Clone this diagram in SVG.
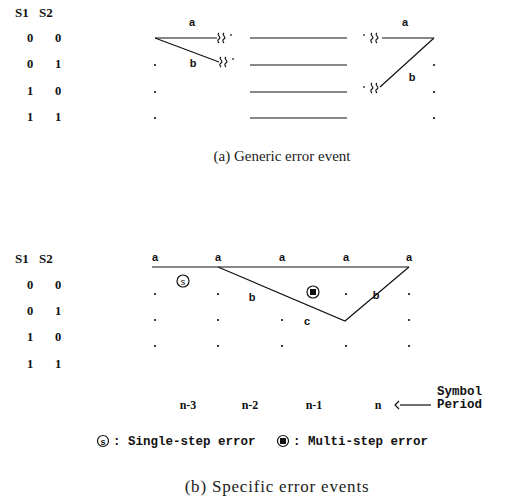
<svg xmlns="http://www.w3.org/2000/svg" width="521" height="500" viewBox="0 0 521 500">
<style>
.hd{font-family:"Liberation Serif",serif;font-weight:bold;font-size:13px;fill:#111}
.dg{font-family:"Liberation Serif",serif;font-weight:bold;font-size:12.5px;fill:#111;text-anchor:middle}
.lb{font-family:"Liberation Sans",sans-serif;font-weight:bold;font-size:11px;fill:#111;text-anchor:middle}
.nm{font-family:"Liberation Serif",serif;font-weight:bold;font-size:12px;fill:#111;text-anchor:middle}
.mo{font-family:"Liberation Mono",monospace;font-weight:bold;font-size:12.5px;fill:#111}
.cap{font-family:"Liberation Serif",serif;fill:#222;text-anchor:middle}
.ln{stroke:#111;stroke-width:1.2;fill:none}
.dot{fill:#111}
.sq{stroke:#111;stroke-width:1.2;fill:none}
</style>
<defs>
<path id="squig" d="M0,-5 c-3,2 3,4 0,6 c-2,1 -1,3 0,4 M5,-5 c-3,2 3,4 0,6 c-2,1 -1,3 0,4" class="sq"/>
<circle id="d" r="1.1" class="dot"/>
</defs>

<!-- Part (a) -->
<g id="table-a">
<text class="hd" x="15" y="17">S1</text>
<text class="hd" x="39" y="17">S2</text>
<text class="dg" x="30" y="42">0</text><text class="dg" x="58" y="42">0</text>
<text class="dg" x="30" y="68">0</text><text class="dg" x="58" y="68">1</text>
<text class="dg" x="30" y="95">1</text><text class="dg" x="58" y="95">0</text>
<text class="dg" x="30" y="121">1</text><text class="dg" x="58" y="121">1</text>
</g>
<g id="connectors-a">
<line class="ln" x1="155" y1="38" x2="217" y2="38"/>
<line class="ln" x1="155" y1="38" x2="219" y2="62"/>
<line class="ln" x1="250" y1="38" x2="347" y2="38"/>
<line class="ln" x1="250" y1="65" x2="347" y2="65"/>
<line class="ln" x1="250" y1="92" x2="347" y2="92"/>
<line class="ln" x1="250" y1="118" x2="347" y2="118"/>
<line class="ln" x1="382" y1="38" x2="434" y2="38"/>
<line class="ln" x1="434" y1="38" x2="380" y2="87"/>
</g>
<g id="breaks-a">
<use href="#squig" x="219" y="38"/>
<line class="ln" x1="231" y1="34" x2="231" y2="36"/>
<use href="#squig" x="221" y="62"/>
<line class="ln" x1="233" y1="58" x2="233" y2="60"/>
<use href="#squig" x="372" y="38"/>
<line class="ln" x1="364" y1="34" x2="364" y2="36"/>
<use href="#squig" x="372" y="88"/>
<line class="ln" x1="364" y1="86" x2="364" y2="88"/>
</g>
<g id="dots-a">
<use href="#d" x="155" y="65"/><use href="#d" x="155" y="92"/><use href="#d" x="155" y="118"/>
<use href="#d" x="434" y="65"/><use href="#d" x="434" y="92"/><use href="#d" x="434" y="118"/>
</g>
<g id="labels-a">
<text class="lb" x="192" y="26">a</text>
<text class="lb" x="193" y="67">b</text>
<text class="lb" x="405" y="26">a</text>
<text class="lb" x="412" y="81">b</text>
</g>
<text class="cap" x="282" y="161" style="font-size:15px">(a) Generic error event</text>

<!-- Part (b) -->
<g id="table-b">
<text class="hd" x="15" y="263">S1</text>
<text class="hd" x="39" y="263">S2</text>
<text class="dg" x="30" y="289">0</text><text class="dg" x="58" y="289">0</text>
<text class="dg" x="30" y="315">0</text><text class="dg" x="58" y="315">1</text>
<text class="dg" x="30" y="341">1</text><text class="dg" x="58" y="341">0</text>
<text class="dg" x="30" y="368">1</text><text class="dg" x="58" y="368">1</text>
</g>
<g id="labels-top-b">
<text class="lb" x="155" y="261">a</text>
<text class="lb" x="218" y="261">a</text>
<text class="lb" x="282" y="261">a</text>
<text class="lb" x="346" y="261">a</text>
<text class="lb" x="409" y="261">a</text>
</g>
<g id="connectors-b">
<line class="ln" x1="152" y1="267" x2="409" y2="267"/>
<polyline class="ln" points="218,267 345,321 409,267"/>
</g>
<g id="dots-b">
<use href="#d" x="155" y="294"/><use href="#d" x="218" y="294"/><use href="#d" x="346" y="294"/><use href="#d" x="409" y="294"/>
<use href="#d" x="155" y="320"/><use href="#d" x="218" y="320"/><use href="#d" x="282" y="320"/><use href="#d" x="409" y="320"/>
<use href="#d" x="155" y="346"/><use href="#d" x="218" y="346"/><use href="#d" x="282" y="346"/><use href="#d" x="346" y="346"/><use href="#d" x="409" y="346"/>
</g>
<g id="labels-b">
<text class="lb" x="252" y="301">b</text>
<text class="lb" x="376" y="299">b</text>
<text class="lb" x="307" y="325">c</text>
</g>
<g id="single-step">
<circle cx="183" cy="281" r="6" class="ln"/>
<text x="183" y="284.5" style="font-family:'Liberation Sans',sans-serif;font-size:9px;fill:#111;text-anchor:middle">s</text>
</g>
<g id="multi-step">
<circle cx="313" cy="292" r="6" class="ln"/>
<rect x="310" y="289" width="6" height="6" fill="#111"/>
</g>
<g id="periods">
<text class="nm" x="188" y="409">n-3</text>
<text class="nm" x="250" y="409">n-2</text>
<text class="nm" x="314" y="409">n-1</text>
<text class="nm" x="378" y="409">n</text>
</g>
<g id="symbol-period">
<line class="ln" x1="400" y1="405" x2="431" y2="405"/>
<polyline class="ln" points="399,401 395,405 399,409"/>
<text class="mo" x="437" y="395">Symbol</text>
<text class="mo" x="437" y="408">Period</text>
</g>
<g id="legend">
<circle cx="103" cy="441" r="5.5" class="ln"/>
<text x="103" y="444.5" style="font-family:'Liberation Sans',sans-serif;font-size:9px;font-weight:bold;fill:#111;text-anchor:middle">s</text>
<text class="mo" x="113" y="445">: Single-step error</text>
<circle cx="283" cy="441" r="5.5" class="ln"/>
<rect x="280" y="438" width="6" height="6" fill="#111"/>
<text class="mo" x="293" y="445">: Multi-step error</text>
</g>
<text class="cap" x="277" y="492" style="font-size:17px;letter-spacing:0.8px">(b) Specific error events</text>
</svg>
